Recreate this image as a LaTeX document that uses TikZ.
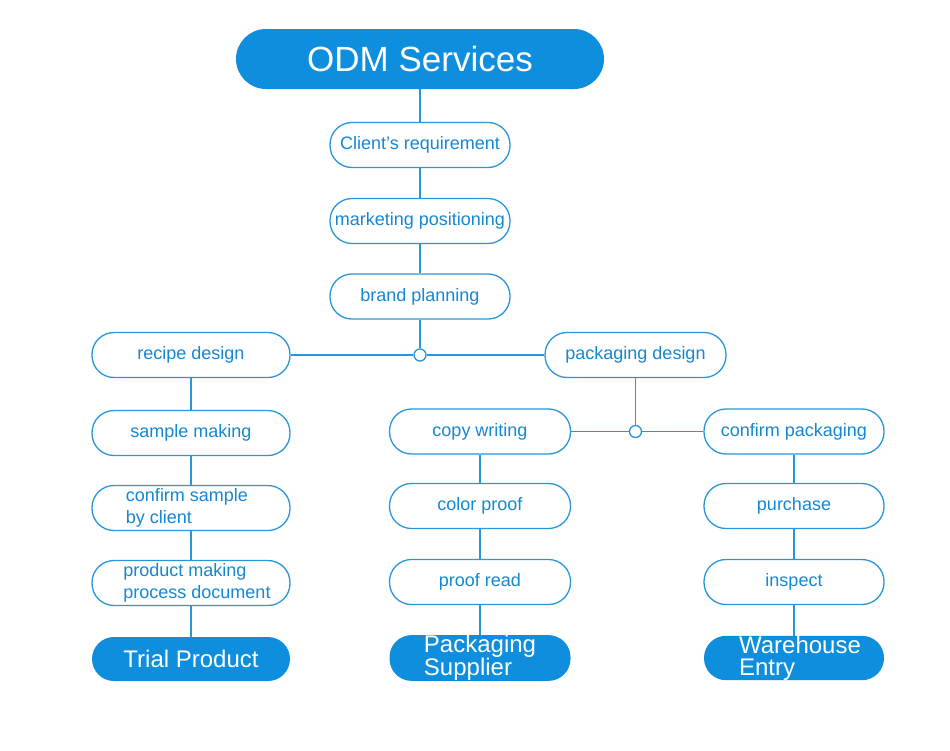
\documentclass[tikz,border=0pt]{standalone}
\usepackage{fontspec}
\setmainfont{Liberation Sans}
\definecolor{mblue}{RGB}{14,142,220}
\definecolor{tblue}{RGB}{20,136,212}
\definecolor{lblue}{RGB}{40,150,218}
\begin{document}
\begin{tikzpicture}[x=1pt,y=-1pt,
  box/.style={draw=lblue, line width=1.3pt, fill=white, rounded corners=22pt,
    minimum height=45pt, inner sep=0pt, text=tblue,
    font=\fontsize{18}{22}\selectfont},
  wbox/.style={box, minimum width=198pt},
  nbox/.style={box, minimum width=180pt},
  endbox/.style={fill=mblue, draw=none, rounded corners=22pt, minimum height=44pt,
    inner sep=0pt, text=white, font=\fontsize{24}{22}\selectfont},
  junc/.style={circle, draw=lblue, fill=white, line width=1.3pt, minimum size=12pt, inner sep=0pt},
  conn/.style={draw=lblue, line width=1.4pt}]
\useasboundingbox (0,0) rectangle (950,750);

\node[fill=mblue, rounded corners=30pt, minimum width=368pt, minimum height=60pt,
  inner sep=0pt, text=white, font=\fontsize{35}{40}\selectfont] (odm) at (420,59) {ODM Services};

\node[nbox] (c1) at (420,145) {Client’s requirement};
\node[nbox] (c2) at (420,221) {marketing positioning};
\node[nbox] (c3) at (420,296.5) {brand planning};
\node[junc] (j1) at (420,355) {};

\node[wbox] (recipe) at (191,355) {recipe design};
\node[wbox] (sample) at (191,433) {sample making};
\node[wbox, align=left] (confs) at (191,508) {\hspace*{-8pt}confirm sample\\\hspace*{-8pt}by client};
\node[wbox, align=left] (prod) at (191,583) {\hspace*{12pt}product making\\\hspace*{12pt}process document};
\node[endbox, minimum width=198pt] (trial) at (191,659) {Trial Product};

\node[nbox, minimum width=181pt] (pack) at (635.5,355) {packaging design};
\node[junc] (j2) at (635.5,431.5) {};

\node[nbox, minimum width=181pt] (copy) at (480,431.5) {copy writing};
\node[nbox, minimum width=181pt] (color) at (480,506) {color proof};
\node[nbox, minimum width=181pt] (proof) at (480,582) {proof read};
\node[endbox, minimum width=181pt, align=left] (supp) at (480,658) {Packaging\\Supplier};

\node[nbox] (confp) at (794,431.5) {confirm packaging};
\node[nbox] (purch) at (794,506) {purchase};
\node[nbox] (insp) at (794,582) {inspect};
\node[endbox, minimum width=180pt, align=left] (ware) at (794,658) {\hspace*{12pt}Warehouse\\\hspace*{12pt}Entry};

\path[conn] (odm) -- (c1);
\path[conn] (c1) -- (c2);
\path[conn] (c2) -- (c3);
\path[conn] (c3) -- (j1);
\path[conn] (recipe) -- (j1);
\path[conn] (j1) -- (pack);
\path[conn] (pack) -- (j2);
\path[conn] (copy) -- (j2);
\path[conn] (j2) -- (confp);
\path[conn] (recipe) -- (sample);
\path[conn] (sample) -- (confs);
\path[conn] (confs) -- (prod);
\path[conn] (prod) -- (trial);
\path[conn] (copy) -- (color);
\path[conn] (color) -- (proof);
\path[conn] (proof) -- (supp);
\path[conn] (confp) -- (purch);
\path[conn] (purch) -- (insp);
\path[conn] (insp) -- (ware);
\end{tikzpicture}
\end{document}
